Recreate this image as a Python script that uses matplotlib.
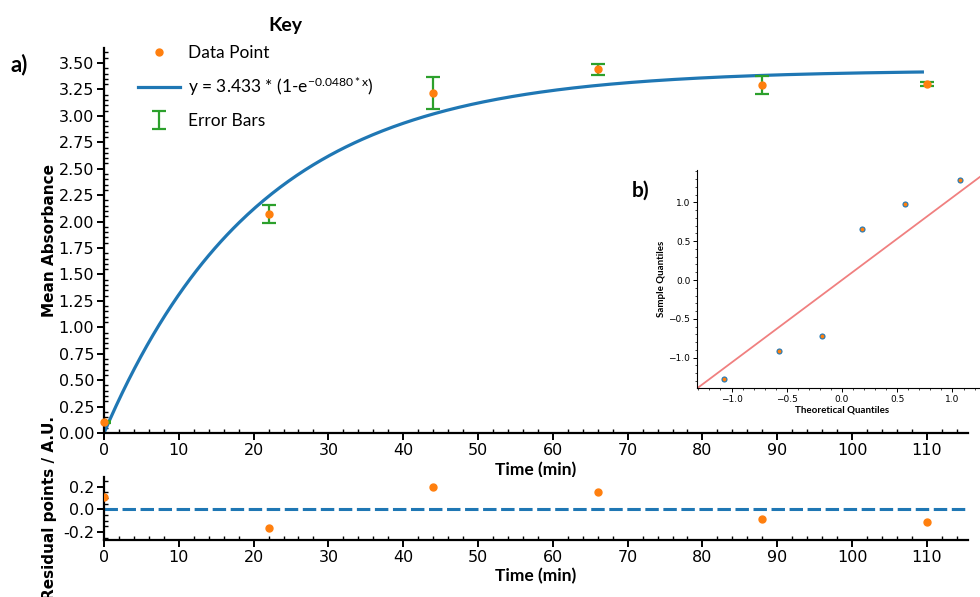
import numpy as np
import matplotlib
matplotlib.use("Agg")
import matplotlib.pyplot as plt
from matplotlib.ticker import AutoMinorLocator, MultipleLocator, FormatStrFormatter
from statistics import NormalDist

# Measurements
time_min = [0, 22, 44, 66, 88, 110]
mean_absorbance = [0.107, 2.073, 3.214, 3.441, 3.296, 3.300]
absorbance_err = [0.008, 0.087, 0.150, 0.052, 0.085, 0.016]

# Fitted model y = A * (1 - exp(-k * x))
fit_A = 3.433
fit_k = 0.0480
fit_x_end = 109.4

# Q-Q reference line slope
qq_line_slope = 1.063

plt.rcParams["font.family"] = ["Lato", "DejaVu Sans"]
plt.rcParams["mathtext.default"] = "regular"

C_BLUE = "#1f77b4"
C_ORANGE = "#ff7f0e"
C_GREEN = "#2ca02c"

W, H = 980, 597
fig = plt.figure(figsize=(W / 100, H / 100), dpi=100)


def px_axes(left, top, right, bottom):
    return fig.add_axes([left / W, 1 - bottom / H, (right - left) / W, (bottom - top) / H])


ax = px_axes(104, 48, 968, 433)
axr = px_axes(104, 477, 968, 540)
axq = px_axes(697.3, 170, 986.7, 388.3)

x = np.array(time_min, dtype=float)
y = np.array(mean_absorbance)
err = np.array(absorbance_err)

xf = np.linspace(0, fit_x_end, 400)
yf = fit_A * (1 - np.exp(-fit_k * xf))
residuals = y - fit_A * (1 - np.exp(-fit_k * x))

TICK_FONT = "DejaVu Sans"

# ---- main panel ----
line, = ax.plot(xf, yf, color=C_BLUE, lw=2.3, zorder=2,
                label=r"y = %.3f * (1-e$^{-%.4f\,{*}\,x}$)" % (fit_A, fit_k))
eb = ax.errorbar(x, y, yerr=err, fmt="none", ecolor=C_GREEN, elinewidth=1.6,
                 capsize=4.8, capthick=1.6, zorder=3, label="Error Bars")
pts, = ax.plot(x, y, "o", color=C_ORANGE, ms=5, zorder=4, clip_on=False,
               label="Data Point")

ax.set_xlim(0, 115.5)
ax.set_ylim(0, 3.642)
ax.xaxis.set_major_locator(MultipleLocator(10))
ax.yaxis.set_major_locator(MultipleLocator(0.25))
ax.yaxis.set_major_formatter(FormatStrFormatter("%.2f"))
ax.set_xlabel("Time (min)", fontsize=12.5, fontweight="bold", labelpad=3)
ax.set_ylabel("Mean Absorbance", fontsize=11, fontweight="bold",
              fontfamily="DejaVu Sans")
ax.yaxis.set_label_coords(-47 / 864, 0.5)

for a in (ax, axr):
    for s in ("top", "right"):
        a.spines[s].set_visible(False)
    for s in ("left", "bottom"):
        a.spines[s].set_linewidth(1.6)
    a.xaxis.set_minor_locator(AutoMinorLocator(5))
    a.yaxis.set_minor_locator(AutoMinorLocator(5 if a is ax else 4))
    a.tick_params(which="major", direction="out", length=5, width=1.4, labelsize=11.5, pad=2)
    a.tick_params(which="minor", direction="in", length=3, width=1.0)

leg = ax.legend(handles=[pts, line, eb], loc="upper left",
                bbox_to_anchor=(138 / W, 1 - 45 / H), bbox_transform=fig.transFigure,
                frameon=False, fontsize=12.5, handlelength=2.4, handletextpad=0.5,
                labelspacing=0.85, borderpad=0, borderaxespad=0, numpoints=1)
fig.text(285 / W, 1 - 25 / H, "Key", fontsize=14, fontweight="bold", ha="center", va="center")
fig.text(19 / W, 1 - 65 / H, "a)", fontsize=16, fontweight="bold", ha="center", va="center")

# ---- residual panel ----
axr.axhline(0, color=C_BLUE, lw=2.2, ls=(0, (4.4, 1.5)), zorder=2)
axr.plot(x, residuals, "o", color=C_ORANGE, ms=5, zorder=3)
axr.set_xlim(0, 115.5)
axr.set_ylim(-0.27, 0.285)
axr.xaxis.set_major_locator(MultipleLocator(10))
axr.yaxis.set_major_locator(MultipleLocator(0.2))
axr.yaxis.set_major_formatter(FormatStrFormatter("%.1f"))
axr.set_xlabel("Time (min)", fontsize=12.5, fontweight="bold", labelpad=2)
axr.set_ylabel("Residual points / A.U.", fontsize=11, fontweight="bold",
               fontfamily="DejaVu Sans")
axr.yaxis.set_label_coords(-47 / 864, 0.5)

for a in (ax, axr):
    for t in a.get_xticklabels() + a.get_yticklabels():
        t.set_fontfamily(TICK_FONT)

# ---- Q-Q inset ----
order = np.sort(residuals)
n = len(order)
theoretical = np.array([NormalDist().inv_cdf((i + 1) / (n + 1)) for i in range(n)])
sample = (order - order.mean()) / order.std()

axq.set_xlim(-1.31, 1.31)
axq.set_ylim(-1.394, 1.416)
axq.axline((0, 0), slope=qq_line_slope, color="#f08080", lw=1.3, zorder=2)
axq.plot(theoretical, sample, "o", ms=3.6, mfc=C_ORANGE, mec=C_BLUE, mew=0.8, zorder=3)
axq.set_facecolor("white")
for s in ("top", "right"):
    axq.spines[s].set_visible(False)
for s in ("left", "bottom"):
    axq.spines[s].set_linewidth(0.8)
axq.xaxis.set_major_locator(MultipleLocator(0.5))
axq.yaxis.set_major_locator(MultipleLocator(0.5))
axq.xaxis.set_minor_locator(AutoMinorLocator(5))
axq.yaxis.set_minor_locator(AutoMinorLocator(5))
axq.tick_params(which="major", length=3, width=0.7, labelsize=6.5, pad=2)
axq.tick_params(which="minor", length=1.6, width=0.5)
for t in axq.get_xticklabels() + axq.get_yticklabels():
    t.set_fontfamily("DejaVu Sans")
axq.set_xlabel("Theoretical Quantiles", fontsize=7, fontweight="bold", labelpad=1)
axq.set_ylabel("Sample Quantiles", fontsize=7, fontweight="bold", labelpad=2)
fig.text(641 / W, 1 - 191 / H, "b)", fontsize=15, fontweight="bold", ha="center", va="center")

fig.savefig("out.png", dpi=100)
